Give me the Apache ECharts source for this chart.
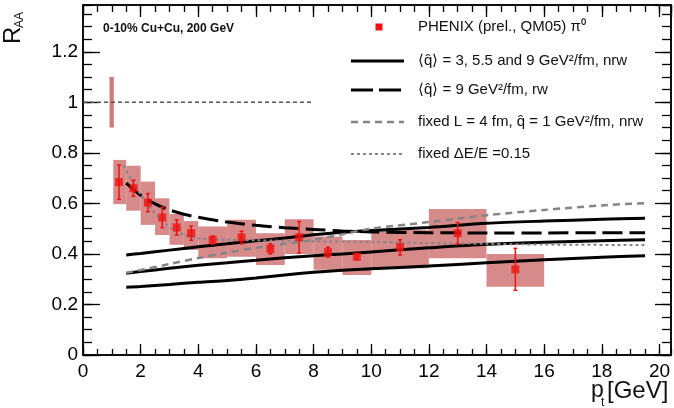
<!DOCTYPE html>
<html>
<head>
<meta charset="utf-8">
<script src="https://cdn.jsdelivr.net/npm/echarts@6/dist/echarts.min.js"></script>
<style>
  html, body { margin: 0; padding: 0; background: #fff; }
  #chart { width: 674px; height: 408px; }
</style>
</head>
<body>
<div id="chart"></div>
<script>
// PHENIX pi0 points (pt bin centers, RAA, stat error, systematic band)
const ptCenters = [1.25, 1.75, 2.25, 2.75, 3.25, 3.75, 4.5, 5.5, 6.5, 7.5, 8.5, 9.5, 11, 13, 15];
const raaValues = [0.684, 0.66, 0.603, 0.544, 0.505, 0.482, 0.455, 0.465, 0.42, 0.466, 0.407, 0.389, 0.426, 0.482, 0.339];
const statErrors = [0.068, 0.032, 0.036, 0.04, 0.03, 0.028, 0.016, 0.025, 0.02, 0.062, 0.02, 0.012, 0.03, 0.042, 0.083];
const binLow = [1.05, 1.5, 2, 2.5, 3, 3.5, 4, 5, 6, 7, 8, 9, 10, 12, 14];
const binHigh = [1.5, 2, 2.5, 3, 3.5, 4, 5, 6, 7, 8, 9, 10, 12, 14, 16];
const sysLow = [0.597, 0.571, 0.515, 0.475, 0.436, 0.416, 0.383, 0.389, 0.356, 0.4, 0.337, 0.317, 0.343, 0.383, 0.27];
const sysHigh = [0.772, 0.749, 0.686, 0.62, 0.558, 0.53, 0.508, 0.535, 0.482, 0.537, 0.469, 0.455, 0.495, 0.578, 0.4];

// normalization uncertainty at RAA = 1
const normBox = [0.92, 1.07, 0.9, 1.1];
const unityX = [0, 8];
const unityY = [1, 1];

// model curves
const nrwX = [1.5, 2, 3, 4, 5, 6, 7, 8, 9, 10, 12, 14, 16, 18, 19.5];
const nrwQ3 = [0.396, 0.402, 0.415, 0.428, 0.44, 0.452, 0.463, 0.476, 0.486, 0.493, 0.505, 0.521, 0.53, 0.537, 0.541];
const nrwQ55 = [0.323, 0.33, 0.343, 0.355, 0.365, 0.375, 0.385, 0.393, 0.4, 0.408, 0.424, 0.438, 0.446, 0.452, 0.456];
const nrwQ9 = [0.268, 0.271, 0.279, 0.288, 0.295, 0.305, 0.317, 0.327, 0.335, 0.341, 0.352, 0.365, 0.377, 0.387, 0.393];
const rwX = [1.5, 2, 2.5, 3, 3.5, 4, 5, 6, 7, 8, 9, 10, 12, 14, 16, 18, 19.5];
const rwQ9 = [0.68, 0.632, 0.598, 0.574, 0.557, 0.545, 0.526, 0.513, 0.504, 0.497, 0.491, 0.487, 0.484, 0.483, 0.483, 0.484, 0.484];
const fixedLX = [1.5, 2, 3, 4, 5, 6, 7, 8, 9, 10, 12, 14, 16, 18, 19.5];
const fixedLY = [0.325, 0.336, 0.36, 0.384, 0.405, 0.424, 0.44, 0.456, 0.478, 0.5, 0.526, 0.553, 0.574, 0.592, 0.601];
const fixedEX = [1.4, 1.75, 2, 2.5, 3, 3.5, 4, 5, 6, 8, 10, 12, 14, 16, 19.5];
const fixedEY = [0.75, 0.68, 0.635, 0.56, 0.505, 0.475, 0.462, 0.456, 0.454, 0.45, 0.447, 0.443, 0.44, 0.437, 0.435];

const legendLabels = [
  "PHENIX (prel., QM05) π⁰",
  "⟨q̂⟩ = 3, 5.5 and 9 GeV²/fm, nrw",
  "⟨q̂⟩ = 9 GeV²/fm, rw",
  "fixed L = 4 fm, q̂ = 1 GeV²/fm, nrw",
  "fixed ΔE/E =0.15",
];
const titleText = "0-10% Cu+Cu, 200 GeV";

const FONT = "'Liberation Sans', Arial, Helvetica, sans-serif";
const RED = "#f01212";
const PINK = "#d78a8a";
const GRAY = "#858585";

const zip = (xs, ys) => xs.map((x, i) => [x, ys[i]]);

function xAxisDef(position, interval, tickLen, showLabel) {
  return {
    type: "value",
    position: position,
    min: 0,
    max: 20.4,
    interval: interval,
    axisLine: { show: true, onZero: false, lineStyle: { color: "#000", width: 1.5 } },
    axisTick: { show: true, inside: true, length: tickLen, lineStyle: { color: "#000", width: 1.3 } },
    axisLabel: {
      show: showLabel,
      color: "#000",
      fontSize: 19,
      fontFamily: FONT,
      margin: 7,
      showMaxLabel: false,
    },
    splitLine: { show: false },
  };
}

function yAxisDef(position, interval, tickLen, showLabel) {
  return {
    type: "value",
    position: position,
    min: 0,
    max: 1.385,
    interval: interval,
    axisLine: { show: true, onZero: false, lineStyle: { color: "#000", width: 1.5 } },
    axisTick: { show: true, inside: true, length: tickLen, lineStyle: { color: "#000", width: 1.3 } },
    axisLabel: {
      show: showLabel,
      color: "#000",
      fontSize: 19,
      fontFamily: FONT,
      margin: 5,
      showMaxLabel: false,
      formatter: (v) => String(Math.round(v * 10) / 10),
    },
    splitLine: { show: false },
  };
}

function curve(name, xs, ys, style) {
  return {
    name: name,
    type: "line",
    data: zip(xs, ys),
    smooth: 0.3,
    showSymbol: false,
    symbol: "none",
    silent: true,
    z: 3,
    lineStyle: style,
  };
}

function legendRow(i, icon) {
  const y = [27, 61, 90, 122, 154][i];
  const items = [];
  if (icon === "square") {
    items.push({ type: "rect", shape: { x: 375.5, y: y - 3.5, width: 7, height: 7 }, style: { fill: RED } });
  } else {
    items.push({ type: "line", shape: { x1: 351, y1: y, x2: 404, y2: y }, style: icon });
  }
  items.push({
    type: "text",
    style: {
      x: 418, y: y, text: legendLabels[i], fill: "#111",
      font: "15px " + FONT, textAlign: "left", textVerticalAlign: "middle",
    },
  });
  return items;
}

const boxData = ptCenters.map((_, i) => [binLow[i], binHigh[i], sysLow[i], sysHigh[i]]);
const errData = ptCenters.map((x, i) => [x, raaValues[i] - statErrors[i], raaValues[i] + statErrors[i]]);

const solidStyle = { color: "#000", width: 3, type: "solid" };
const longDashStyle = { color: "#000", width: 3, type: [20, 7] };
const grayDashStyle = { color: GRAY, width: 2.5, type: [7, 5] };
const grayDotStyle = { color: GRAY, width: 2, type: [3, 3] };

const chart = echarts.init(document.getElementById("chart"), null, { renderer: "canvas" });

chart.setOption({
  animation: false,
  backgroundColor: "#fff",
  grid: { left: 83, right: 3, top: 5, bottom: 53, containLabel: false },
  xAxis: [
    xAxisDef("bottom", 2, 11, true),
    xAxisDef("bottom", 0.5, 6, false),
    xAxisDef("top", 2, 12, false),
    xAxisDef("top", 0.5, 7, false),
  ],
  yAxis: [
    yAxisDef("left", 0.2, 17, true),
    yAxisDef("left", 0.05, 9, false),
    yAxisDef("right", 0.2, 16, false),
    yAxisDef("right", 0.05, 9, false),
  ],
  series: [
    {
      name: "sys",
      type: "custom",
      silent: true,
      z: 1,
      data: boxData.concat([normBox]),
      encode: { x: [0, 1], y: [2, 3] },
      renderItem: (params, api) => {
        const p1 = api.coord([api.value(0), api.value(3)]);
        const p2 = api.coord([api.value(1), api.value(2)]);
        return {
          type: "rect",
          shape: { x: p1[0], y: p1[1], width: p2[0] - p1[0], height: p2[1] - p1[1] },
          style: { fill: params.dataIndex === boxData.length ? "#d07c7c" : PINK },
        };
      },
    },
    {
      name: "unity",
      type: "line",
      data: zip(unityX, unityY),
      showSymbol: false,
      symbol: "none",
      silent: true,
      z: 2,
      lineStyle: { color: "#555", width: 1.5, type: [4, 3] },
    },
    curve("nrw", nrwX, nrwQ3, solidStyle),
    curve("nrw", nrwX, nrwQ55, solidStyle),
    curve("nrw", nrwX, nrwQ9, solidStyle),
    curve("rw", rwX, rwQ9, longDashStyle),
    curve("fixedL", fixedLX, fixedLY, grayDashStyle),
    curve("fixedE", fixedEX, fixedEY, grayDotStyle),
    {
      name: "stat",
      type: "custom",
      silent: true,
      z: 4,
      data: errData,
      encode: { x: 0, y: [1, 2] },
      renderItem: (params, api) => {
        const lo = api.coord([api.value(0), api.value(1)]);
        const hi = api.coord([api.value(0), api.value(2)]);
        const st = { stroke: RED, lineWidth: 1.5 };
        return {
          type: "group",
          children: [
            { type: "line", shape: { x1: lo[0], y1: lo[1], x2: hi[0], y2: hi[1] }, style: st },
            { type: "line", shape: { x1: lo[0] - 2, y1: lo[1], x2: lo[0] + 2, y2: lo[1] }, style: st },
            { type: "line", shape: { x1: hi[0] - 2, y1: hi[1], x2: hi[0] + 2, y2: hi[1] }, style: st },
          ],
        };
      },
    },
    {
      name: "PHENIX",
      type: "scatter",
      symbol: "rect",
      symbolSize: 8,
      silent: true,
      z: 5,
      itemStyle: { color: RED },
      data: zip(ptCenters, raaValues),
    },
  ],
  graphic: [
    {
      type: "text",
      style: { x: 103, y: 29, text: titleText, fill: "#111", font: "bold 12px " + FONT, textVerticalAlign: "middle" },
    },
    {
      // y-axis title, reads bottom to top
      type: "group",
      x: 25,
      y: 44,
      rotation: Math.PI / 2,
      children: [
        { type: "text", style: { x: 0, y: 0, text: "R", fill: "#111", font: "24px " + FONT, textAlign: "left", textVerticalAlign: "bottom" } },
        { type: "text", style: { x: 16, y: 1, text: "AA", fill: "#111", font: "12px " + FONT, textAlign: "left", textVerticalAlign: "bottom" } },
      ],
    },
    {
      type: "text",
      style: { x: 591, y: 391, text: "p", fill: "#111", font: "23px " + FONT, textVerticalAlign: "middle" },
    },
    {
      type: "text",
      style: { x: 601, y: 403, text: "t", fill: "#111", font: "12px " + FONT, textVerticalAlign: "middle" },
    },
    {
      type: "text",
      style: { x: 607, y: 391, text: "[GeV]", fill: "#111", font: "24px " + FONT, textVerticalAlign: "middle" },
    },
    ...legendRow(0, "square"),
    ...legendRow(1, { stroke: "#000", lineWidth: 3 }),
    ...legendRow(2, { stroke: "#000", lineWidth: 3, lineDash: [22, 6] }),
    ...legendRow(3, { stroke: GRAY, lineWidth: 2.5, lineDash: [7, 5] }),
    ...legendRow(4, { stroke: GRAY, lineWidth: 2, lineDash: [3, 3] }),
  ],
});
</script>
</body>
</html>
